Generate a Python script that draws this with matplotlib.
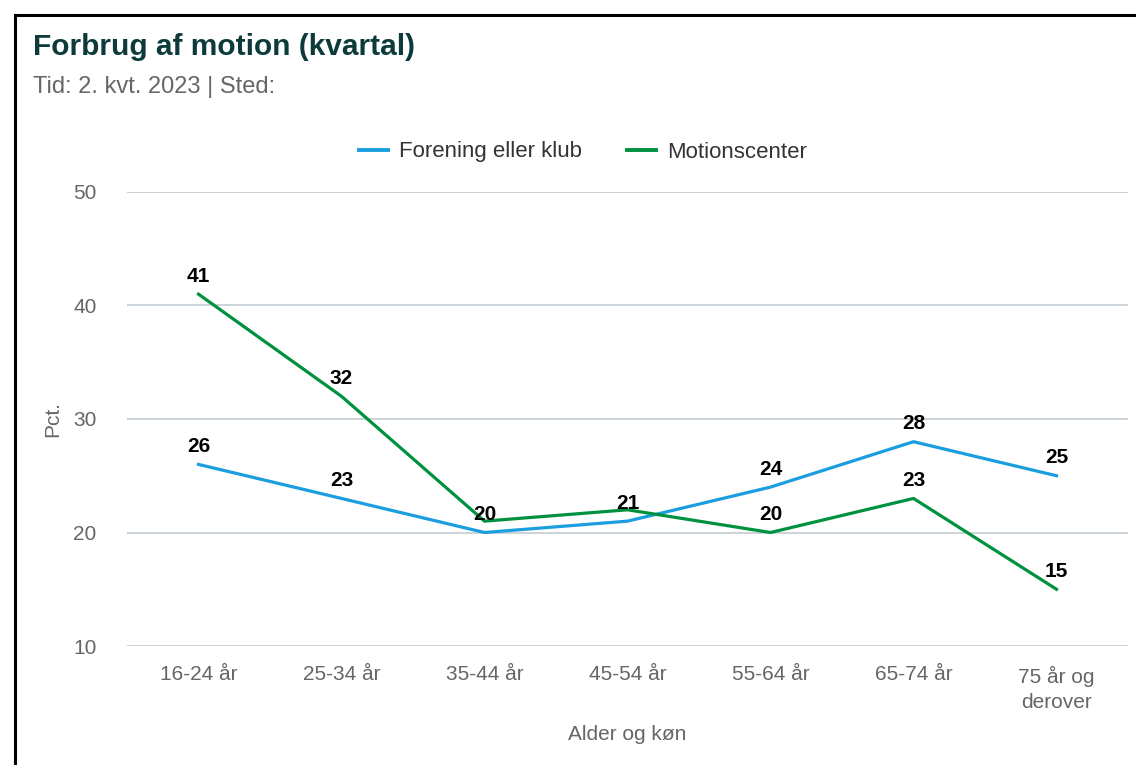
import matplotlib.pyplot as plt
from matplotlib.lines import Line2D

plt.rcParams['font.family'] = ['Liberation Sans', 'DejaVu Sans']

categories = ["16-24 år", "25-34 år", "35-44 år", "45-54 år", "55-64 år", "65-74 år", "75 år og\nderover"]
forening = [26, 23, 20, 21, 24, 28, 25]
motion = [41, 32, 21, 22, 20, 23, 15]
# labels hidden in the original where they collide with the other series
motion_hidden = [2, 3]

BLUE = "#1a9ee0"
GREEN = "#00913f"
TXT = "#666666"

fig = plt.figure(figsize=(11.36, 7.65), dpi=100)
ax = fig.add_axes([127 / 1136, 1 - 646 / 765, (1128 - 127) / 1136, (646 - 192) / 765])

x = list(range(len(categories)))
ax.plot(x, forening, color=BLUE, lw=2.3, solid_joinstyle="round", zorder=3)
ax.plot(x, motion, color=GREEN, lw=2.3, solid_joinstyle="round", zorder=3)

for i, v in enumerate(forening):
    ax.annotate(str(v), (i, v), textcoords="offset points", xytext=(0, 6), ha="center",
                va="bottom", fontsize=15, fontweight="bold", color="black", zorder=5)
for i, v in enumerate(motion):
    if i in motion_hidden:
        continue
    ax.annotate(str(v), (i, v), textcoords="offset points", xytext=(0, 6), ha="center",
                va="bottom", fontsize=15, fontweight="bold", color="black", zorder=5)

ax.set_xlim(-0.5, len(categories) - 0.5)
ax.set_ylim(10, 50)
ax.set_yticks([10, 20, 30, 40, 50])
ax.set_xticks(x)
ax.set_xticklabels(categories, linespacing=1.4)
ax.yaxis.grid(True, color="#c2ccd3", lw=1.2)
ax.set_axisbelow(True)
for s in ax.spines.values():
    s.set_visible(False)
ax.tick_params(length=0, labelsize=15, labelcolor=TXT)
ax.tick_params(axis="x", pad=14)
ax.tick_params(axis="y", pad=22)
ax.set_xlabel("Alder og køn", fontsize=15, color=TXT, labelpad=10)
ax.set_ylabel("Pct.", fontsize=15, color=TXT, labelpad=8)

fig.text(33 / 1136, 1 - 47 / 765, "Forbrug af motion (kvartal)", fontsize=21.5, fontweight="bold",
         color="#0d3b3b", va="center", ha="left")
fig.text(33 / 1136, 1 - 87 / 765, "Tid: 2. kvt. 2023 | Sted:", fontsize=17, color=TXT,
         va="center", ha="left")

handles = [Line2D([], [], color=BLUE, lw=2.8), Line2D([], [], color=GREEN, lw=2.8)]
fig.legend(handles, ["Forening eller klub", "Motionscenter"], loc="center",
           bbox_to_anchor=(583 / 1136, 1 - 152 / 765), ncol=2, frameon=False,
           fontsize=16, handlelength=1.3, handletextpad=0.5, columnspacing=2.0,
           labelcolor="#333333")

# frame lines around the chart card
fig.add_artist(Line2D([15 / 1136, 15 / 1136], [0, 1 - 15 / 765], color="black", lw=2.2))
fig.add_artist(Line2D([15 / 1136, 1], [1 - 15 / 765, 1 - 15 / 765], color="black", lw=2.2))

fig.savefig("out.png", dpi=100)
